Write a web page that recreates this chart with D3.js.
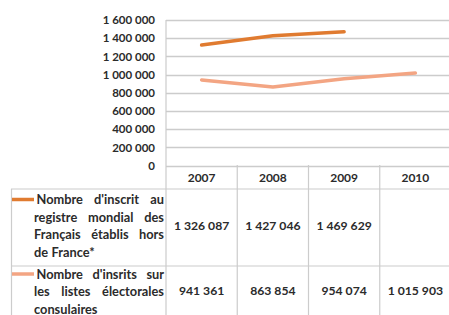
<!DOCTYPE html>
<html>
<head>
<meta charset="utf-8">
<script src="https://cdn.jsdelivr.net/npm/d3@7"></script>
<style>
  body { margin: 0; background: #fff; }
  svg text { font-family: Lato, "Open Sans", sans-serif; font-weight: bold; fill: #2b2b2b; }
</style>
</head>
<body>
<div id="chart"></div>
<script>
// Données
var years = ["2007", "2008", "2009", "2010"];
var registre = [1326087, 1427046, 1469629, null];
var listes = [941361, 863854, 954074, 1015903];
var yTicks = [0, 200000, 400000, 600000, 800000, 1000000, 1200000, 1400000, 1600000];
var legendLines1 = ["Nombre d'inscrit au", "registre mondial des", "Français établis hors", "de France*"];
var legendLines2 = ["Nombre d'insrits sur", "les listes électorales", "consulaires"];
var colors = ["#e07b30", "#f3a583"];

var W = 449, H = 315;
var svg = d3.select("#chart").append("svg").attr("width", W).attr("height", H);

var fr = d3.formatLocale({decimal: ",", thousands: "\u00a0", grouping: [3], currency: ["", "€"]});
var fmt = fr.format(",d");

var y = d3.scaleLinear().domain([0, 1600000]).range([165.5, 20]);
var x = d3.scaleBand().domain(years).range([166, 451]);

var grid = "#cccccc";

// lignes de grille
svg.append("g").selectAll("line").data(yTicks).enter().append("line")
  .attr("x1", 166).attr("x2", W)
  .attr("y1", function (d) { return Math.round(y(d)) + 0.5; })
  .attr("y2", function (d) { return Math.round(y(d)) + 0.5; })
  .attr("stroke", grid).attr("stroke-width", 1.5);

// axe Y
var yAxis = svg.append("g").attr("transform", "translate(166,0)")
  .call(d3.axisLeft(y).tickValues(yTicks).tickFormat(fmt).tickSize(0).tickPadding(11));
yAxis.select(".domain").attr("stroke", grid).attr("stroke-width", 1.2).attr("d", "M0,20V315");
yAxis.selectAll("text").attr("font-size", 11.5).attr("fill", "#2b2b2b")
  .style("font-family", "Lato, sans-serif").style("font-weight", "bold");

// courbes
function drawLine(vals, color) {
  var pts = years.map(function (yr, i) { return {yr: yr, v: vals[i]}; }).filter(function (d) { return d.v != null; });
  svg.append("path").datum(pts)
    .attr("fill", "none").attr("stroke", color).attr("stroke-width", 3.5)
    .attr("stroke-linecap", "round").attr("stroke-linejoin", "round")
    .attr("d", d3.line().x(function (d) { return x(d.yr) + x.bandwidth() / 2; }).y(function (d) { return y(d.v); }));
}
drawLine(registre, colors[0]);
drawLine(listes, colors[1]);

// tableau
var rowTop = 189, row2Top = 266;
var t = svg.append("g");
t.selectAll("line.v").data(years).enter().append("line")
  .attr("x1", function (d) { return x(d) + x.bandwidth(); })
  .attr("x2", function (d) { return x(d) + x.bandwidth(); })
  .attr("y1", 165).attr("y2", H)
  .attr("stroke", grid).attr("stroke-width", 1.2);
[rowTop, row2Top].forEach(function (yy) {
  t.append("line").attr("x1", 11).attr("x2", W).attr("y1", yy).attr("y2", yy)
    .attr("stroke", grid).attr("stroke-width", 1.2);
});
t.append("line").attr("x1", 11.5).attr("x2", 11.5).attr("y1", rowTop).attr("y2", H)
  .attr("stroke", grid).attr("stroke-width", 1.2);

// en-têtes
t.selectAll("text.yr").data(years).enter().append("text")
  .attr("x", function (d) { return x(d) + x.bandwidth() / 2; })
  .attr("y", 181.5).attr("text-anchor", "middle").attr("font-size", 12)
  .text(function (d) { return d; });

// valeurs
function drawValues(vals, cy) {
  t.selectAll(null).data(years).enter().append("text")
    .attr("x", function (d) { return x(d) + x.bandwidth() / 2; })
    .attr("y", cy).attr("text-anchor", "middle").attr("font-size", 12.2)
    .text(function (d, i) { return vals[i] == null ? "" : fmt(vals[i]); });
}
drawValues(registre, 229.5);
drawValues(listes, 294.5);

// légende justifiée
function justify(lines, startY, color) {
  lines.forEach(function (line, li) {
    var left = li === 0 ? 36.5 : 34, right = 164;
    var words = line.split(" ");
    var ty = startY + li * 17.5;
    var nodes = words.map(function (w) {
      return t.append("text").attr("y", ty).attr("font-size", 12.8).text(w);
    });
    var widths = nodes.map(function (n) { return n.node().getComputedTextLength(); });
    var last = li === lines.length - 1;
    var gap = (last || words.length < 2) ? 3.5 : (right - left - d3.sum(widths)) / (words.length - 1);
    var cx = left;
    nodes.forEach(function (n, i) { n.attr("x", cx); cx += widths[i] + gap; });
  });
  t.append("line").attr("x1", 12).attr("x2", 34).attr("y1", startY - 4.5).attr("y2", startY - 4.5)
    .attr("stroke", color).attr("stroke-width", 3.5);
}
justify(legendLines1, 204, colors[0]);
justify(legendLines2, 278.5, colors[1]);
</script>
</body>
</html>
